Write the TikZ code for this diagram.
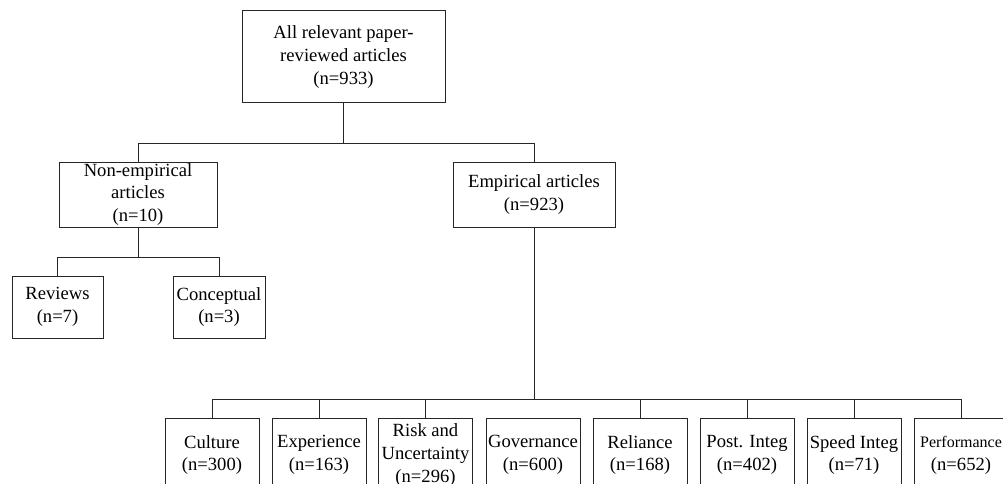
\documentclass[tikz,border=0pt]{standalone}
\usepackage{fontspec}
\setmainfont{Liberation Serif}
\begin{document}
\begin{tikzpicture}[x=1pt,y=-1pt,
  box/.style={draw=black!85, line width=1pt, inner sep=0pt, align=center,
    font=\fontsize{18.6}{22.8}\selectfont},
  leaf/.style={box, minimum width=94pt, minimum height=74pt},
  link/.style={draw=black!85, line width=1pt}]
\useasboundingbox (0,0) rectangle (1003,484);
\begin{scope}
\clip (0,0) rectangle (1003,484);
\node[box, minimum width=203pt, minimum height=92pt] (all) at (343.5,57)
  {All relevant paper-\\reviewed articles\\(n=933)};
\node[box, minimum width=158pt, minimum height=65pt] (ne) at (138,194.5)
  {Non-empirical\\articles\\(n=10)};
\node[box, minimum width=162pt, minimum height=65pt] (emp) at (534,194.5)
  {Empirical articles\\(n=923)};
\node[box, minimum width=91pt, minimum height=62pt] (rev) at (57.5,307)
  {Reviews\\(n=7)};
\node[box, minimum width=92pt, minimum height=62pt] (con) at (219,307)
  {Conceptual\\(n=3)};
\node[leaf] (l1) at (212,455) {Culture\\(n=300)};
\node[leaf] (l2) at (319,455) {Experience\\(n=163)};
\node[leaf] (l3) at (425.5,455) {Risk and\\Uncertainty\\(n=296)};
\node[leaf] (l4) at (533,455) {Governance\\(n=600)};
\node[leaf] (l5) at (640,455) {Reliance\\(n=168)};
\node[leaf] (l6) at (747,455) {Post. Integ\\(n=402)};
\node[leaf] (l7) at (854,455) {Speed Integ\\(n=71)};
\node[leaf] (l8) at (961,455) {{\fontsize{16}{22.8}\selectfont Performance}\\(n=652)};

\draw[link] (ne.north) -- ++(0,-18) coordinate (a) -| (emp.north);
\draw[link] (all.south) -- (all.south |- a);
\draw[link] (ne.south) -- ++(0,30) coordinate (b);
\draw[link] (rev.north) |- (b) -| (con.north);
\draw[link] (emp.south) -- ++(0,172) coordinate (c);
\draw[link] (l1.north) |- (c) -| (l8.north);
\foreach \n in {l2,l3,l5,l6,l7}
  \draw[link] (\n.north) -- (\n.north |- c);
\end{scope}
\end{tikzpicture}
\end{document}
